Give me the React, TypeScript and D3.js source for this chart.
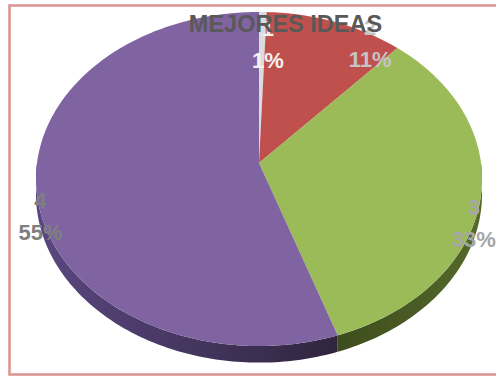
import React from 'react';
import * as d3 from 'd3';

// ---- data ----
const categories: string[] = ['1', '2', '3', '4'];
const values: number[] = [0.6, 11, 33, 55];
const title = 'MEJORES IDEAS';

// ---- styles / layout ----
const sliceColors = ['#DCDCDC', '#C0504D', '#9BBB59', '#8064A2'];
const sideColors: [string, string][] = [
  ['#8a8a8a', '#6e6e6e'],
  ['#7a2f2d', '#5e2422'],
  ['#3d4c1d', '#55692b'],
  ['#5a4780', '#30253f'],
];
const labelColors = ['#F2F2F2', '#C4C4C4', '#A6A6A8', '#7F7F7F'];
const labelNudge: [number, number][] = [[5, 32], [34.5, 21], [-7, 26], [4, 26]];

const W = 496, H = 376;
const cx = 259, cy = 163, a = 222, b = 165.5, k = -0.0958, depth = 15;

function project(theta: number, dy = 0, r = 1): [number, number] {
  const u = Math.sin(theta) * r, v = -Math.cos(theta) * r;
  const s = 1 + k * v;
  return [cx + (a * u) / s, cy + (b * v) / s + dy / s];
}

function arcPoints(t0: number, t1: number, dy = 0): [number, number][] {
  const n = Math.max(2, Math.ceil(((t1 - t0) / (Math.PI * 2)) * 360));
  return d3.range(n + 1).map((i) => project(t0 + ((t1 - t0) * i) / n, dy));
}

export default function App() {
  const pie = d3.pie<number>().sort(null).value((d) => d);
  const arcs = pie(values);
  const total = d3.sum(values);
  const line = d3.line();

  const sides = arcs.map((arc, i) => {
    const t0 = Math.max(arc.startAngle, Math.PI / 2);
    const t1 = Math.min(arc.endAngle, (Math.PI * 3) / 2);
    if (t1 <= t0) return null;
    const top = arcPoints(t0, t1, 0);
    const bot = arcPoints(t0, t1, depth).reverse();
    const xs = top.map((p) => p[0]);
    return {
      i,
      d: line([...top, ...bot])! + 'Z',
      x1: d3.min(xs)!,
      x2: d3.max(xs)!,
    };
  });

  const faces = arcs.map((arc) => {
    const pts = arcPoints(arc.startAngle, arc.endAngle, 0);
    return line([[cx, cy], ...pts])! + 'Z';
  });

  const labels = arcs.map((arc, i) => {
    const mid = (arc.startAngle + arc.endAngle) / 2;
    const [rx, ry] = project(mid);
    const x = rx + labelNudge[i][0];
    const y = ry + labelNudge[i][1];
    return {
      x,
      y,
      cat: categories[i],
      pct: Math.round((arc.data / total) * 100) + '%',
      color: labelColors[i],
    };
  });

  return (
    <svg
      width={W}
      height={H}
      style={{ position: 'absolute', left: 0, top: 0, background: '#fff' }}
    >
      <defs>
        {sides.map((s) =>
          s ? (
            <linearGradient
              key={s.i}
              id={`side${s.i}`}
              gradientUnits="userSpaceOnUse"
              x1={s.x1}
              x2={s.x2}
              y1={0}
              y2={0}
            >
              <stop offset="0" stopColor={sideColors[s.i][0]} />
              <stop offset="1" stopColor={sideColors[s.i][1]} />
            </linearGradient>
          ) : null
        )}
      </defs>
      <rect x={0} y={0} width={W} height={H} fill="#fff" />
      <rect
        x={9.5}
        y={5.5}
        width={520}
        height={369}
        fill="none"
        stroke="#DA9694"
        strokeWidth={2.6}
      />
      {sides.map((s) =>
        s ? <path key={s.i} d={s.d} fill={`url(#side${s.i})`} /> : null
      )}
      {faces.map((d, i) => (
        <path key={i} d={d} fill={sliceColors[i]} />
      ))}
      <g
        fontFamily="'Liberation Sans', Arial, sans-serif"
        fontWeight="bold"
        fontSize={22}
        textAnchor="middle"
      >
        {labels.map((l, i) => (
          <g key={i} fill={l.color}>
            <text x={l.x} y={l.y - 8}>{l.cat}</text>
            <text x={l.x} y={l.y + 24}>{l.pct}</text>
          </g>
        ))}
      </g>
      <text
        x={285.5}
        y={32}
        textAnchor="middle"
        fontFamily="'Liberation Sans', Arial, sans-serif"
        fontWeight="bold"
        fontSize={23.5}
        fill="#595959"
      >
        {title}
      </text>
    </svg>
  );
}
